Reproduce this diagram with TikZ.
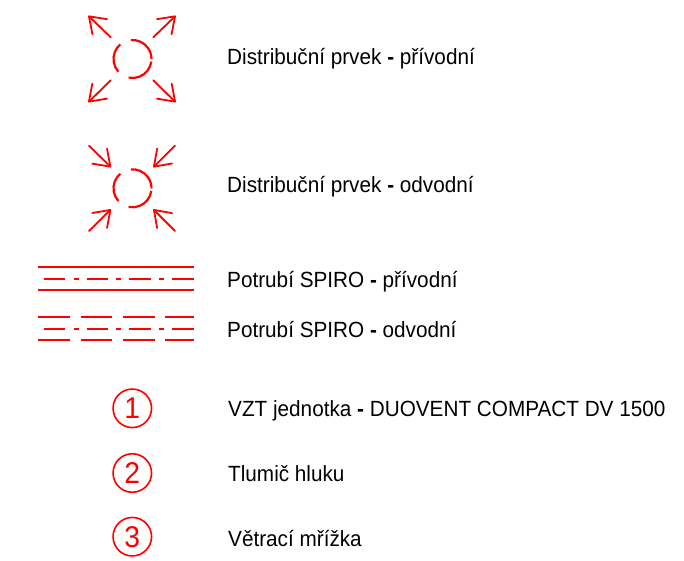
\documentclass[tikz,border=0pt]{standalone}
\usepackage{fontspec}
\usetikzlibrary{arrows.meta}
\setmainfont[FakeStretch=0.942]{Liberation Sans}
\tikzset{
  x=1pt,y=-1pt,
  redline/.style={draw=red,line width=2.1pt},
  ringarc/.style={draw=red,line width=2.2pt},
  arr/.style={draw=red,line width=1.8pt,line cap=round,-{Straight Barb[length=15pt,width=21pt,line width=1.8pt,round]}},
  lab/.style={anchor=base west,inner sep=0pt,font=\fontsize{22}{24}\selectfont,text=black},
  num/.style={circle,draw=red,line width=1.6pt,minimum size=38.5pt,inner sep=0pt,text=red,font=\fontsize{30}{32}\selectfont},
}
\newcommand{\ringat}[1]{%
  \draw[ringarc] (#1) ++(95:19pt) arc[start angle=95,end angle=0,radius=19pt];
  \draw[ringarc] (#1) ++(-8:19pt) arc[start angle=-8,end angle=-102,radius=19pt];
  \draw[ringarc] (#1) ++(130:19pt) arc[start angle=130,end angle=222,radius=19pt];
}
\newcommand{\hy}{{\bfseries -}}
\begin{document}
\begin{tikzpicture}
\useasboundingbox (0,0) rectangle (684,561);
% supply element
\coordinate (c1) at (132.5,59);
\ringat{c1}
\coordinate (a1) at (110.7,37.3); \coordinate (b1) at (88.3,15.7);
\coordinate (a2) at (153.3,37.3); \coordinate (b2) at (175.7,15.7);
\coordinate (a3) at (110.7,80.3); \coordinate (b3) at (88.3,102.3);
\coordinate (a4) at (153.3,80.3); \coordinate (b4) at (175.7,102.3);
\draw[arr] (a1) -- (b1);
\draw[arr] (a2) -- (b2);
\draw[arr] (a3) -- (b3);
\draw[arr] (a4) -- (b4);
% return element
\coordinate (c2) at (132.5,188.3);
\ringat{c2}
\coordinate (d1) at (89,145.7);  \coordinate (e1) at (111,167.3);
\coordinate (d2) at (175,145.7); \coordinate (e2) at (153.3,167.3);
\coordinate (d3) at (89,231);    \coordinate (e3) at (111,209.3);
\coordinate (d4) at (175,231);   \coordinate (e4) at (153.3,209.3);
\draw[arr] (d1) -- (e1);
\draw[arr] (d2) -- (e2);
\draw[arr] (d3) -- (e3);
\draw[arr] (d4) -- (e4);
% supply duct
\draw[redline] (38.3,267.3) -- (193.7,267.3);
\draw[redline] (38.3,289.7) -- (193.7,289.7);
\foreach \a/\b in {44/65,73.7/78.7,86.7/108.3,116.3/121.3,129.3/151,159.3/164.3,172.3/193.7}
  \draw[redline] (\a,278.7) -- (\b,278.7);
% return duct
\foreach \a/\b in {38.3/70,80.7/112.3,123/154.7,165.3/193.7}{
  \draw[redline] (\a,317.3) -- (\b,317.3);
  \draw[redline] (\a,340.3) -- (\b,340.3);
}
\foreach \a/\b in {44/65,73.7/78.7,86.7/108.3,116.3/121.3,129.3/151,159.3/164.3,172.3/193.7}
  \draw[redline] (\a,328.7) -- (\b,328.7);
% numbers
\node[num] (n1) at (132.3,408.3) {1};
\node[num] (n2) at (132.3,473) {2};
\node[num] (n3) at (132.3,536.7) {3};
% labels
\node[lab] (t1) at (227,65) {Distribuční prvek \hy{} přívodní};
\node[lab] (t2) at (227,193) {Distribuční prvek \hy{} odvodní};
\node[lab] (t3) at (227,287) {Potrubí SPIRO \hy{} přívodní};
\node[lab] (t4) at (227,337) {Potrubí SPIRO \hy{} odvodní};
\node[lab] (t5) at (228,416) {VZT jednotka \hy{} DUOVENT COMPACT DV 1500};
\node[lab] (t6) at (228,481) {Tlumič hluku};
\node[lab] (t7) at (228,546) {Větrací mřížka};
\end{tikzpicture}
\end{document}
